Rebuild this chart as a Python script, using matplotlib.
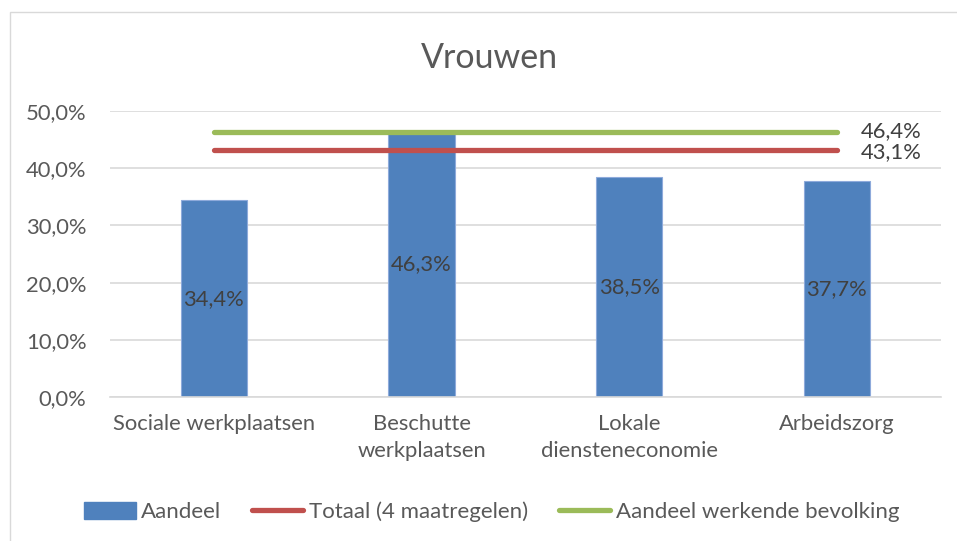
import matplotlib
matplotlib.use("Agg")
import matplotlib.pyplot as plt
from matplotlib.patches import Patch, Rectangle
from matplotlib.lines import Line2D
from matplotlib.ticker import FuncFormatter

plt.rcParams['font.family'] = ['Lato', 'DejaVu Sans']

# data
categories = ["Sociale werkplaatsen", "Beschutte\nwerkplaatsen", "Lokale\ndiensteneconomie", "Arbeidszorg"]
aandeel = [34.4, 46.3, 38.5, 37.7]
totaal = [43.1, 43.1, 43.1, 43.1]
werkende_bevolking = [46.4, 46.4, 46.4, 46.4]
y_ticks = [0, 10, 20, 30, 40, 50]

BLUE = '#4F81BD'
RED = '#C0504D'
GREEN = '#9BBB59'
TEXT = '#595959'
GRID = '#D9D9D9'


def pct(v):
    return f"{v:.1f}%".replace('.', ',')


fig = plt.figure(figsize=(9.57, 5.41), dpi=100)
fig.patches.append(Rectangle((10 / 957, -0.1), 1.1, 1 - 12 / 541 + 0.1, transform=fig.transFigure,
                             fill=False, edgecolor=GRID, linewidth=1))

ax = fig.add_axes([0.115, 0.266, 0.868, 0.529])
x = list(range(len(categories)))

ax.bar(x, aandeel, width=0.32, color=BLUE, edgecolor='#8EAADB', linewidth=0.8, zorder=2)
for xi, v in zip(x, aandeel):
    ax.text(xi, v / 2, pct(v), ha='center', va='center', fontsize=15.8, color='#404040', zorder=5)

ax.plot(x, totaal, color=RED, linewidth=3.8, solid_capstyle='round', zorder=3)
ax.plot(x, werkende_bevolking, color=GREEN, linewidth=3.8, solid_capstyle='round', zorder=3)
ax.annotate(pct(werkende_bevolking[-1]), (x[-1], werkende_bevolking[-1]), xytext=(17, 0),
            textcoords='offset points', ha='left', va='center', fontsize=15.8, color='#404040')
ax.annotate(pct(totaal[-1]), (x[-1], totaal[-1]), xytext=(17, -1),
            textcoords='offset points', ha='left', va='center', fontsize=15.8, color='#404040')

ax.set_xlim(-0.5, len(categories) - 0.5)
ax.set_ylim(0, 50)
ax.set_yticks(y_ticks)
ax.yaxis.set_major_formatter(FuncFormatter(lambda v, _: pct(v)))
ax.set_xticks(x)
ax.set_xticklabels(categories, fontsize=15.8, color=TEXT, linespacing=1.45)
ax.tick_params(axis='y', length=0, labelsize=15.8, labelcolor=TEXT, pad=17)
ax.tick_params(axis='x', length=0, pad=12)
ax.grid(axis='y', color=GRID, linewidth=1.2, zorder=0)
ax.set_axisbelow(True)
for side in ['top', 'right', 'left']:
    ax.spines[side].set_visible(False)
ax.spines['bottom'].set_color(GRID)
ax.spines['bottom'].set_linewidth(1.2)

fig.text(0.511, 0.893, "Vrouwen", ha='center', va='center', fontsize=24.5, color=TEXT)

handles = [
    Patch(facecolor=BLUE, edgecolor=BLUE),
    Line2D([0], [0], color=RED, linewidth=3.8, solid_capstyle='round'),
    Line2D([0], [0], color=GREEN, linewidth=3.8, solid_capstyle='round'),
]
labels = ["Aandeel", "Totaal (4 maatregelen)", "Aandeel werkende bevolking"]
fig.legend(handles, labels, loc='center', bbox_to_anchor=(0.514, 0.054), ncol=3, frameon=False,
           fontsize=16, labelcolor=TEXT, handlelength=2.3, handleheight=0.8,
           handletextpad=0.25, columnspacing=1.4)

fig.savefig("out.png", dpi=100, facecolor='white')
